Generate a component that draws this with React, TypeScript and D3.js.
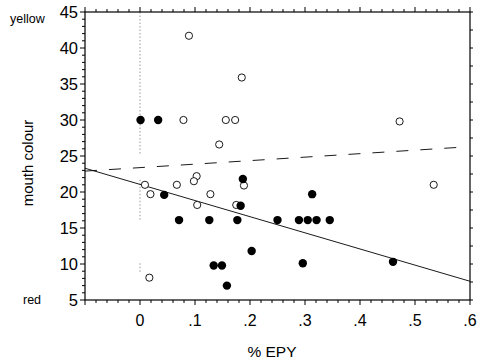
import React from 'react';
import * as d3 from 'd3';

// open circles (one group)
const openX = [0.089, 0.185, 0.079, 0.156, 0.173, 0.144, 0.009, 0.019, 0.067, 0.103, 0.098, 0.128, 0.104, 0.189, 0.175, 0.017, 0.472, 0.534];
const openY = [41.7, 35.9, 30, 30, 30, 26.6, 21.0, 19.7, 21.0, 22.2, 21.5, 19.7, 18.2, 20.9, 18.2, 8.1, 29.8, 21.0];

// filled circles (other group)
const filledX = [0.001, 0.033, 0.044, 0.071, 0.126, 0.177, 0.187, 0.183, 0.203, 0.134, 0.149, 0.158, 0.313, 0.25, 0.289, 0.305, 0.321, 0.345, 0.296, 0.46];
const filledY = [30, 30, 19.6, 16.1, 16.1, 16.1, 21.8, 18.1, 11.8, 9.8, 9.8, 7.0, 19.7, 16.1, 16.1, 16.1, 16.1, 16.1, 10.1, 10.3];

// regression lines (end points, data units)
const solidFit: [number, number][] = [[-0.1, 23.3], [0.6, 7.6]];
const dashedFit: [number, number][] = [[-0.1, 22.9], [0.58, 26.2]];

// faint reference line at x = 0 (y ranges)
const zeroLineSegs: [number, number][] = [[45, 25.1], [21.7, 16.1], [10.1, 8.75]];

const xTicks = [0, 0.1, 0.2, 0.3, 0.4, 0.5, 0.6];
const xTickLabels = ['0', '.1', '.2', '.3', '.4', '.5', '.6'];
const yTicks = [5, 10, 15, 20, 25, 30, 35, 40, 45];

const W = 479;
const H = 360;
const m = { left: 85, right: 9, top: 12, bottom: 60 };

export default function App() {
  const x = d3.scaleLinear().domain([-0.1, 0.6]).range([m.left, W - m.right]);
  const y = d3.scaleLinear().domain([5, 45]).range([H - m.bottom, m.top]);
  const x0 = m.left, x1 = W - m.right, y0 = H - m.bottom, y1 = m.top;
  const font = '"Liberation Sans", Arial, sans-serif';

  const xMinor = d3.range(-0.1, 0.6001, 0.02).map((v) => +v.toFixed(3));
  const yMinor = d3.range(5, 45.001, 1);
  const rMinor = d3.range(5, 45.001, 2.5);
  const isMajorX = (v: number) => Math.abs(v * 10 - Math.round(v * 10)) < 1e-6;

  const line = d3.line<[number, number]>().x((d) => x(d[0])).y((d) => y(d[1]));

  return (
    <svg width={W} height={H} style={{ position: 'absolute', left: 0, top: 0, background: '#fff' }}>
      {/* zero reference line */}
      {zeroLineSegs.map((s, i) => (
        <line key={i} x1={x(0)} x2={x(0)} y1={y(s[0])} y2={y(s[1])} stroke="#999" strokeWidth={1} strokeDasharray="1.5,2" />
      ))}

      {/* frame */}
      <rect x={x0} y={y1} width={x1 - x0} height={y0 - y1} fill="none" stroke="#000" strokeWidth={1.2} />

      {/* bottom & top ticks */}
      {xMinor.map((v, i) => {
        const major = isMajorX(v);
        const len = major ? 5 : 3;
        return (
          <g key={i}>
            <line x1={x(v)} x2={x(v)} y1={y0} y2={y0 + len} stroke="#000" strokeWidth={1} />
            <line x1={x(v)} x2={x(v)} y1={y1} y2={y1 - len} stroke="#000" strokeWidth={1} />
          </g>
        );
      })}
      {/* left ticks */}
      {yMinor.map((v, i) => {
        const major = v % 5 === 0;
        return <line key={i} x1={x0} x2={x0 - (major ? 5 : 3)} y1={y(v)} y2={y(v)} stroke="#000" strokeWidth={1} />;
      })}
      {/* right ticks */}
      {rMinor.map((v, i) => (
        <line key={i} x1={x1} x2={x1 + 3} y1={y(v)} y2={y(v)} stroke="#000" strokeWidth={1} />
      ))}

      {/* tick labels */}
      {xTicks.map((v, i) => (
        <text key={i} x={x(v)} y={y0 + 26} textAnchor="middle" fontFamily={font} fontSize={16}>
          {xTickLabels[i]}
        </text>
      ))}
      {yTicks.map((v) => (
        <text key={v} x={x0 - 7} y={y(v) + 6} textAnchor="end" fontFamily={font} fontSize={16.5}>
          {v}
        </text>
      ))}

      {/* axis titles */}
      <text x={272} y={357} textAnchor="middle" fontFamily={font} fontSize={15.5}>
        % EPY
      </text>
      <text transform={`translate(33,163) rotate(-90)`} textAnchor="middle" fontFamily={font} fontSize={15}>
        mouth colour
      </text>
      <text x={10} y={23} fontFamily={font} fontSize={12.5}>
        yellow
      </text>
      <text x={23} y={304} fontFamily={font} fontSize={12.5}>
        red
      </text>

      {/* fits */}
      <path d={line(dashedFit) || ''} fill="none" stroke="#000" strokeWidth={0.9} strokeDasharray="12,12" />
      <path d={line(solidFit) || ''} fill="none" stroke="#000" strokeWidth={0.9} />

      {/* points */}
      {openX.map((v, i) => (
        <circle key={'o' + i} cx={x(v)} cy={y(openY[i])} r={3.6} fill="#fff" stroke="#000" strokeWidth={0.9} />
      ))}
      {filledX.map((v, i) => (
        <circle key={'f' + i} cx={x(v)} cy={y(filledY[i])} r={4.2} fill="#000" />
      ))}
    </svg>
  );
}
